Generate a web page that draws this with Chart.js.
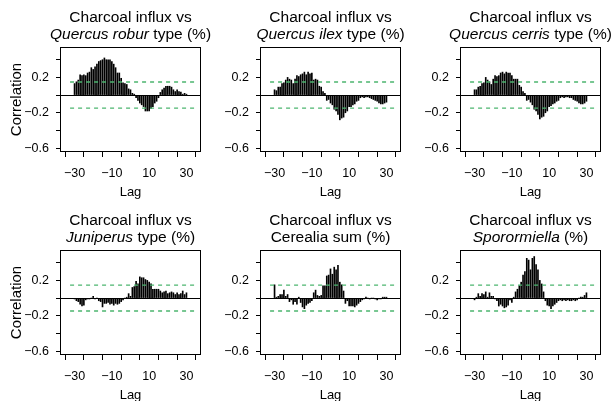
<!DOCTYPE html>
<html>
<head>
<meta charset="utf-8">
<title>Charcoal influx cross-correlation</title>
<script src="https://cdn.jsdelivr.net/npm/chart.js@4.4.0/dist/chart.umd.min.js"></script>
<style>
  body { margin: 0; background: #fff; }
  #wrap { position: relative; width: 613px; height: 401px; overflow: hidden; background: #fff; }
  .panel { position: absolute; }
  .title {
    position: absolute; width: 220px; text-align: center;
    font-family: "Liberation Sans", Arial, Helvetica, sans-serif;
    font-size: 15.5px; line-height: 17px; color: #000;
  }
</style>
</head>
<body>
<div id="wrap"></div>
<script>
// lags of the cross-correlation
const lags = [-30, -29, -28, -27, -26, -25, -24, -23, -22, -21, -20, -19, -18, -17, -16, -15, -14, -13, -12, -11,
  -10, -9, -8, -7, -6, -5, -4, -3, -2, -1, 0, 1, 2, 3, 4, 5, 6, 7, 8, 9, 10, 11, 12, 13, 14, 15, 16, 17, 18, 19, 20,
  21, 22, 23, 24, 25, 26, 27, 28, 29, 30];

// correlation values (lag -30 .. 30)
const quercus_robur = [0.13, 0.15, 0.17, 0.23, 0.22, 0.23, 0.22, 0.25, 0.26, 0.31, 0.29, 0.32, 0.35, 0.38, 0.39, 0.40,
  0.42, 0.40, 0.40, 0.40, 0.38, 0.35, 0.31, 0.25, 0.25, 0.19, 0.14, 0.13, 0.12, 0.07, 0.06, 0.02, 0.01, -0.03, -0.06,
  -0.09, -0.11, -0.13, -0.18, -0.18, -0.18, -0.15, -0.13, -0.09, -0.07, -0.03, 0.03, 0.06, 0.08, 0.10, 0.10, 0.10,
  0.09, 0.06, 0.04, 0.06, 0.04, 0.035, 0.01, 0.02, 0.01];
const quercus_ilex = [0.06, 0.05, 0.09, 0.09, 0.13, 0.14, 0.17, 0.20, 0.18, 0.17, 0.13, 0.18, 0.22, 0.21, 0.23, 0.24,
  0.26, 0.23, 0.26, 0.24, 0.25, 0.17, 0.18, 0.17, 0.10, 0.09, 0.04, 0.02, -0.06, -0.05, -0.09, -0.11, -0.16, -0.18,
  -0.22, -0.28, -0.26, -0.25, -0.20, -0.18, -0.13, -0.13, -0.11, -0.10, -0.07, -0.06, -0.03, -0.02, -0.03, -0.02,
  -0.02, -0.03, -0.04, -0.05, -0.06, -0.07, -0.09, -0.10, -0.10, -0.09, -0.08];
const quercus_cerris = [0.06, 0.06, 0.09, 0.10, 0.13, 0.14, 0.20, 0.17, 0.15, 0.12, 0.18, 0.22, 0.21, 0.22, 0.25, 0.26,
  0.24, 0.26, 0.25, 0.25, 0.22, 0.18, 0.18, 0.18, 0.11, 0.09, 0.04, 0.02, -0.06, -0.05, -0.08, -0.11, -0.16, -0.18,
  -0.22, -0.27, -0.25, -0.24, -0.20, -0.18, -0.13, -0.12, -0.10, -0.09, -0.07, -0.06, -0.03, -0.02, -0.03, -0.02,
  -0.02, -0.03, -0.03, -0.05, -0.06, -0.07, -0.09, -0.10, -0.10, -0.09, -0.07];
const juniperus = [-0.01, -0.03, -0.04, -0.07, -0.09, -0.08, -0.02, -0.01, -0.01, 0.00, 0.02, -0.01, 0.00, -0.03, -0.04,
  -0.10, -0.06, -0.06, -0.05, -0.07, -0.06, -0.08, -0.06, -0.07, -0.06, -0.04, -0.02, 0.00, 0.01, 0.05, 0.02, 0.12,
  0.13, 0.19, 0.16, 0.24, 0.23, 0.23, 0.21, 0.20, 0.18, 0.16, 0.10, 0.10, 0.10, 0.10, 0.08, 0.06, 0.07, 0.08, 0.05,
  0.06, 0.07, 0.06, 0.04, 0.06, 0.04, 0.05, 0.08, 0.04, 0.06];
const cerealia = [0.15, 0.01, 0.02, 0.04, 0.04, 0.09, 0.02, 0.04, -0.04, -0.02, -0.07, -0.04, -0.07, 0.01, -0.05, -0.10,
  -0.12, -0.08, -0.06, -0.05, -0.03, 0.06, 0.09, 0.03, 0.02, 0.03, 0.14, 0.14, 0.25, 0.26, 0.33, 0.27, 0.35, 0.32,
  0.37, 0.18, 0.15, 0.08, -0.06, -0.03, -0.09, -0.09, -0.09, -0.10, -0.08, -0.06, -0.04, -0.02, -0.01, 0.01, 0.00,
  -0.01, 0.00, 0.00, -0.01, -0.02, -0.01, -0.01, 0.01, 0.01, 0.01];
const sporormiella = [-0.02, 0.01, 0.05, 0.02, 0.05, 0.04, 0.07, 0.01, 0.06, 0.02, 0.02, -0.01, -0.03, -0.09, -0.07,
  -0.09, -0.11, -0.10, -0.08, -0.02, -0.05, 0.01, 0.07, 0.10, 0.14, 0.18, 0.26, 0.30, 0.45, 0.43, 0.32, 0.45, 0.47,
  0.38, 0.32, 0.20, 0.16, 0.07, -0.03, -0.08, -0.09, -0.12, -0.09, -0.07, -0.05, -0.03, -0.02, -0.03, -0.02, -0.03,
  -0.02, -0.03, -0.03, -0.02, -0.03, -0.02, 0.00, 0.01, 0.01, 0.03, 0.06];

// 95% confidence bound (dashed green lines)
const ci_bounds = [0.148, 0.148, 0.148, 0.146, 0.146, 0.146];

const series_list = [quercus_robur, quercus_ilex, quercus_cerris, juniperus, cerealia, sporormiella];
const title_line1 = ["Charcoal influx vs", "Charcoal influx vs", "Charcoal influx vs",
  "Charcoal influx vs", "Charcoal influx vs", "Charcoal influx vs"];
const title_line2 = ["<i>Quercus robur</i> type (%)", "<i>Quercus ilex</i> type (%)", "<i>Quercus cerris</i> type (%)",
  "<i>Juniperus</i> type (%)", "Cerealia sum (%)", "<i>Sporormiella</i> (%)"];

// axes
const x_ticks = [-30, -20, -10, 0, 10, 20, 30];
const x_tick_labels = [-30, -10, 10, 30];
const y_ticks = [-0.6, -0.4, -0.2, 0, 0.2, 0.4];
const y_tick_labels = [0.2, -0.2, -0.6];
const x_range = [-32.4, 32.4];
const y_range = [-0.644, 0.544];

const font_family = "'Liberation Sans', Arial, Helvetica, sans-serif";
const ci_color = "#4cb56f";

// R style minus sign
function fmt(v) {
  return (v < 0 ? "\u2212" : "") + Math.abs(v);
}

// draws the full box around the plot region
const boxPlugin = {
  id: "box",
  afterDatasetsDraw(chart) {
    const a = chart.chartArea;
    const c = chart.ctx;
    c.save();
    c.strokeStyle = "#000";
    c.lineWidth = 1;
    c.strokeRect(a.left + 0.5, a.top + 0.5, a.right - a.left - 1, a.bottom - a.top - 1);
    c.restore();
  },
};

const wrap = document.getElementById("wrap");

series_list.forEach((values, k) => {
  const col = k % 3;
  const row = Math.floor(k / 3);
  const left = col * 200;
  const top = row * 203;
  const width = col === 2 ? 213 : 210;

  const holder = document.createElement("div");
  holder.className = "panel";
  holder.style.left = left + "px";
  holder.style.top = top + "px";
  holder.style.width = width + "px";
  holder.style.height = "200px";
  const canvas = document.createElement("canvas");
  holder.appendChild(canvas);
  wrap.appendChild(holder);

  const title = document.createElement("div");
  title.className = "title";
  title.style.left = left + 130.5 - 110 + "px";
  title.style.top = top + 7.5 + "px";
  title.innerHTML = title_line1[k] + "<br>" + title_line2[k];
  wrap.appendChild(title);

  const ci = ci_bounds[k];
  const ci_end = x_range[1] + 3.2;

  new Chart(canvas, {
    type: "bar",
    data: {
      datasets: [
        {
          type: "bar",
          data: lags.map((lag, i) => ({ x: lag, y: values[i] })),
          backgroundColor: "#000",
          borderWidth: 0,
          barThickness: 1,
          order: 2,
        },
        {
          type: "line",
          data: [{ x: x_range[0], y: ci }, { x: ci_end, y: ci }],
          borderColor: ci_color,
          borderWidth: 1.3,
          borderDash: [4, 4],
          pointRadius: 0,
          clip: false,
          order: 1,
        },
        {
          type: "line",
          data: [{ x: x_range[0], y: -ci }, { x: ci_end, y: -ci }],
          borderColor: ci_color,
          borderWidth: 1.3,
          borderDash: [4, 4],
          pointRadius: 0,
          clip: false,
          order: 1,
        },
      ],
    },
    options: {
      responsive: true,
      maintainAspectRatio: false,
      animation: false,
      events: [],
      layout: { padding: { left: 0, top: 47, right: width - 201, bottom: 0 } },
      plugins: { legend: { display: false }, tooltip: { enabled: false } },
      scales: {
        x: {
          type: "linear",
          min: x_range[0],
          max: x_range[1],
          afterBuildTicks: (scale) => { scale.ticks = x_ticks.map((v) => ({ value: v })); },
          afterFit: (scale) => { scale.height = 48; },
          grid: { drawOnChartArea: false, tickLength: 5, tickColor: "#000" },
          border: { display: false },
          ticks: {
            autoSkip: false,
            maxRotation: 0,
            padding: 9,
            color: "#000",
            font: { family: font_family, size: 12.5 },
            callback: (v) => (x_tick_labels.includes(v) ? fmt(v) : ""),
          },
          title: {
            display: true,
            text: "Lag",
            color: "#000",
            font: { family: font_family, size: 13 },
            padding: { top: 0, bottom: 0 },
          },
        },
        y: {
          type: "linear",
          min: y_range[0],
          max: y_range[1],
          afterBuildTicks: (scale) => { scale.ticks = y_ticks.map((v) => ({ value: v })); },
          afterFit: (scale) => { scale.width = 60; },
          grid: {
            color: (c) => (c.tick && c.tick.value === 0 ? "#000" : "rgba(0,0,0,0)"),
            tickColor: "#000",
            tickLength: 4,
          },
          border: { display: false },
          ticks: {
            padding: 7,
            color: "#000",
            font: { family: font_family, size: 12.5 },
            callback: (v) => (y_tick_labels.includes(v) ? fmt(v) : ""),
          },
          title: {
            display: col === 0,
            text: "Correlation",
            color: "#000",
            font: { family: font_family, size: 15 },
            padding: { top: 8, bottom: 0 },
          },
        },
      },
    },
    plugins: [boxPlugin],
  });
});
</script>
</body>
</html>
